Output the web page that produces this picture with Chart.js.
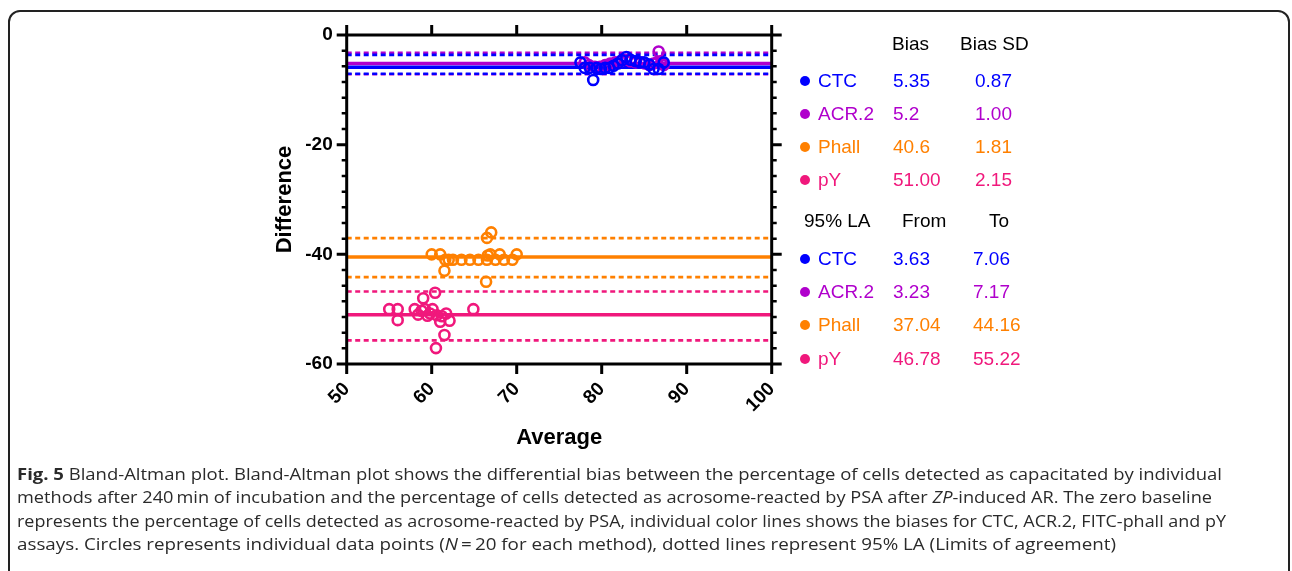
<!DOCTYPE html>
<html>
<head>
<meta charset="utf-8">
<script src="https://cdn.jsdelivr.net/npm/chart.js@4"></script>
<style>
	body { margin: 0; background: #fff; width: 1292px; height: 571px; overflow: hidden; position: relative; font-family: "Liberation Sans", Arial, sans-serif; }
	#frame { position: absolute; left: 8px; top: 10px; width: 1282px; height: 640px; border: 2px solid #222; border-radius: 12px; box-sizing: border-box; }
	#chart { position: absolute; left: 0; top: 0; }
	#table div { position: absolute; font-size: 19px; line-height: 22px; white-space: nowrap; }
	#table .dot { width: 10px; height: 10px; border-radius: 50%; }
	#caption { position: absolute; left: 17px; top: 463px; font-family: "Open Sans", sans-serif; font-size: 16px; color: #2a2a2a; }
	#caption div { white-space: nowrap; transform-origin: 0 50%; height: 23.4px; line-height: 23.4px; }
</style>
</head>
<body>
<div id="frame"></div>
<canvas id="chart" width="1292" height="571"></canvas>
<div id="table"></div>
<div id="caption">
	<div><b>Fig. 5</b> Bland-Altman plot. Bland-Altman plot shows the differential bias between the percentage of cells detected as capacitated by individual</div>
	<div>methods after 240&#8201;min of incubation and the percentage of cells detected as acrosome-reacted by PSA after <i>ZP</i>-induced AR. The zero baseline</div>
	<div>represents the percentage of cells detected as acrosome-reacted by PSA, individual color lines shows the biases for CTC, ACR.2, FITC-phall and pY</div>
	<div>assays. Circles represents individual data points (<i>N</i>&#8201;=&#8201;20 for each method), dotted lines represent 95% LA (Limits of agreement)</div>
</div>
<script>
// methods and their table values
const methods = ['CTC', 'ACR.2', 'Phall', 'pY'];
const colors = ['#0000ff', '#b000cc', '#ff8000', '#f0187c'];
const biasText = ['5.35', '5.2', '40.6', '51.00'];
const biasSD = ['0.87', '1.00', '1.81', '2.15'];
const laFrom = ['3.63', '3.23', '37.04', '46.78'];
const laTo = ['7.06', '7.17', '44.16', '55.22'];

// horizontal lines as drawn in the plot
const biasLine = [-5.9, -5.2, -40.5, -51.0];
const laUpper = [-3.63, -3.23, -37.04, -46.78];
const laLower = [-7.06, -7.17, -44.16, -55.7];

// individual points (average, difference)
const ctcX = [77.5, 78, 78.6, 79, 79.4, 79.9, 80.4, 80.9, 81.4, 81.9, 82.4, 82.9, 83.4, 84, 84.5, 85, 85.6, 86.1, 86.7, 87.3];
const ctcY = [-5, -6, -6, -8.2, -6, -6.2, -6, -6, -5.6, -5.2, -4.6, -4, -4.5, -4.8, -5, -5, -5.4, -6.2, -6.2, -5];
const acrX = [78, 78.5, 79.2, 79.8, 80.4, 81, 81.6, 82.2, 82.8, 83.4, 84, 84.6, 85.1, 85.6, 86.1, 86.5, 86.7, 87, 87.3, 80.8];
const acrY = [-5, -5.5, -5.8, -5.8, -5.5, -5.2, -5, -4.8, -4.5, -4.8, -5, -5, -5.2, -5.5, -5.2, -5, -3, -5, -5.5, -5.5];
const phallX = [60, 61, 61.5, 61.6, 62.5, 63.5, 64.5, 65.5, 66.5, 67.5, 68.5, 69.5, 66.9, 68, 70, 66.5, 67, 66.4, 66.6, 62];
const phallY = [-40, -40, -43, -41, -41, -41, -41, -41, -41, -41, -41, -41, -40, -40, -40, -37, -36, -45, -40.2, -41];
const pyX = [55, 56, 56, 58, 58.4, 59, 59.2, 59.8, 60.1, 60.4, 60.6, 61.2, 61.7, 62.1, 61, 64.9, 61.5, 60.5, 58.8, 59.5];
const pyY = [-50, -50, -52, -50, -51, -48, -50, -50.8, -50, -47, -51.1, -51.3, -50.8, -52.1, -52.3, -50, -54.7, -57.1, -50.3, -51.2];

const xTicks = [50, 60, 70, 80, 90, 100];
const yTicks = [0, -20, -40, -60];

function toPoints(xs, ys) {
	return xs.map((x, i) => ({ x: x, y: ys[i] }));
}

function hLine(v) {
	return [{ x: 50, y: v }, { x: 100, y: v }];
}

let pointSets = [toPoints(ctcX, ctcY), toPoints(acrX, acrY), toPoints(phallX, phallY), toPoints(pyX, pyY)];

function buildDatasets() {
	let sets = [];
	pointSets.forEach((pts, i) => {
		sets.push({
			type: 'scatter', label: methods[i], data: pts, order: i, showLine: false,
			pointStyle: 'circle', pointRadius: 5, pointBorderWidth: 2.6,
			pointBorderColor: colors[i], pointBackgroundColor: 'rgba(0,0,0,0)',
			borderColor: colors[i], backgroundColor: 'rgba(0,0,0,0)'
		});
	});
	// lines drawn underneath the points; purple under blue
	[1, 0, 2, 3].forEach((i, k) => {
		let base = { type: 'line', pointRadius: 0, borderColor: colors[i], fill: false, order: 10 + (3 - k) };
		sets.push(Object.assign({ data: hLine(biasLine[i]), borderWidth: 3.5 }, base));
		sets.push(Object.assign({ data: hLine(laUpper[i]), borderWidth: 2.6, borderDash: [5, 3.5] }, base));
		sets.push(Object.assign({ data: hLine(laLower[i]), borderWidth: 2.6, borderDash: [5, 3.5] }, base));
	});
	return sets;
}

// box round the plot, major and minor ticks on all four sides
const axisFrame = {
	id: 'axisFrame',
	afterDraw(chart) {
		let { ctx, chartArea: a, scales: { x, y } } = chart;
		ctx.save();
		ctx.strokeStyle = '#000';
		ctx.lineWidth = 3;
		ctx.strokeRect(a.left, a.top, a.right - a.left, a.bottom - a.top);
		ctx.beginPath();
		xTicks.forEach(v => {
			let px = x.getPixelForValue(v);
			ctx.moveTo(px, a.bottom); ctx.lineTo(px, a.bottom + 10);
			ctx.moveTo(px, a.top); ctx.lineTo(px, a.top - 10);
		});
		yTicks.forEach(v => {
			let py = y.getPixelForValue(v);
			ctx.moveTo(a.left - 10, py); ctx.lineTo(a.left, py);
			ctx.moveTo(a.right, py); ctx.lineTo(a.right + 10, py);
		});
		ctx.stroke();
		ctx.beginPath();
		ctx.lineWidth = 2.5;
		let step = 20 / 7;
		for (let k = 1; k < 21; k++) {
			if (k % 7 === 0) continue;
			let py = y.getPixelForValue(-k * step);
			ctx.moveTo(a.left - 5, py); ctx.lineTo(a.left, py);
			ctx.moveTo(a.right, py); ctx.lineTo(a.right + 5, py);
		}
		ctx.stroke();
		ctx.restore();
	}
};

function addBlandAltmanChart() {

	let ctx = document.getElementById('chart').getContext('2d');
	new Chart(ctx, {
		type: 'scatter',
		data: { datasets: buildDatasets() },
		options: {
			responsive: false,
			animation: false,
			devicePixelRatio: 1,
			elements: { point: { radius: 5, borderWidth: 2.6 } },
			layout: { padding: { left: 272, top: 35, right: 520.3, bottom: 119.4 } },
			plugins: { legend: { display: false }, tooltip: { enabled: false } },
			scales: {
				x: {
					type: 'linear', min: 50, max: 100,
					afterBuildTicks: s => { s.ticks = xTicks.map(v => ({ value: v })); },
					afterFit: s => { s.height = 87.6; },
					grid: { display: false, drawTicks: false },
					border: { display: false },
					ticks: { minRotation: 45, maxRotation: 45, padding: 14, color: '#000', font: { family: 'Liberation Sans', size: 19, weight: 'bold' } },
					title: { display: true, text: 'Average', color: '#000', padding: 0, font: { family: 'Liberation Sans', size: 22, weight: 'bold' } }
				},
				y: {
					type: 'linear', min: -60, max: 0,
					afterBuildTicks: s => { s.ticks = yTicks.map(v => ({ value: v })); },
					afterFit: s => { s.width = 74.7; },
					grid: { display: false, drawTicks: false },
					border: { display: false },
					ticks: { padding: 14, color: '#000', callback: v => String(v), font: { family: 'Liberation Sans', size: 19, weight: 'bold' } },
					title: { display: true, text: 'Difference', color: '#000', padding: 0, font: { family: 'Liberation Sans', size: 22, weight: 'bold' } }
				}
			}
		},
		plugins: [axisFrame]
	});

}

function addCell(text, left, centerY, color) {
	let d = document.createElement('div');
	d.textContent = text;
	d.style.left = left + 'px';
	d.style.top = (centerY - 11) + 'px';
	d.style.color = color;
	document.getElementById('table').appendChild(d);
}

function addDot(cx, cy, color) {
	let d = document.createElement('div');
	d.className = 'dot';
	d.style.left = (cx - 5) + 'px';
	d.style.top = (cy - 5) + 'px';
	d.style.background = color;
	document.getElementById('table').appendChild(d);
}

function addTable() {
	let rowsA = [81.2, 114, 146.5, 179.8];
	let rowsB = [259.2, 292.2, 325, 358.8];
	addCell('Bias', 892, 43.8, '#000');
	addCell('Bias SD', 960, 43.8, '#000');
	addCell('95% LA', 804, 221.2, '#000');
	addCell('From', 902, 221.2, '#000');
	addCell('To', 989, 221.2, '#000');
	methods.forEach((m, i) => {
		addDot(805, rowsA[i], colors[i]);
		addCell(m, 818, rowsA[i], colors[i]);
		addCell(biasText[i], 893, rowsA[i], colors[i]);
		addCell(biasSD[i], 975, rowsA[i], colors[i]);
		addDot(805, rowsB[i], colors[i]);
		addCell(m, 818, rowsB[i], colors[i]);
		addCell(laFrom[i], 893, rowsB[i], colors[i]);
		addCell(laTo[i], 973, rowsB[i], colors[i]);
	});
}

function fitCaption() {
	let ends = [1222, 1212, 1226, 1116];
	let lines = document.querySelectorAll('#caption div');
	lines.forEach((el, i) => {
		let r = document.createRange();
		r.selectNodeContents(el);
		let w = r.getBoundingClientRect().width;
		el.style.transform = 'scaleX(' + ((ends[i] - 17) / w) + ')';
	});
}

addBlandAltmanChart();
addTable();
fitCaption();
</script>
</body>
</html>
